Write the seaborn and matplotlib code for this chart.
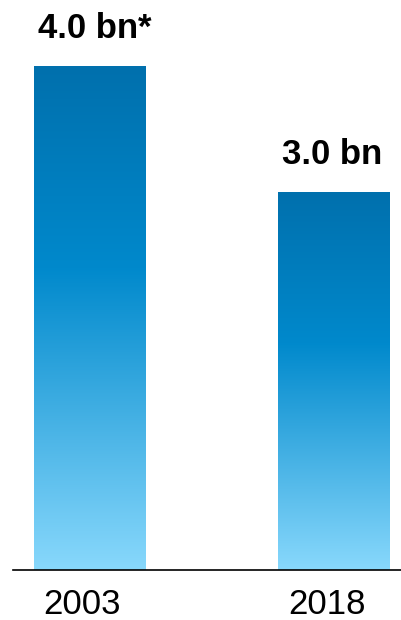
import numpy as np
import pandas as pd
import seaborn as sns
import matplotlib
matplotlib.use("Agg")
import matplotlib.pyplot as plt
from matplotlib.colors import LinearSegmentedColormap
from matplotlib.transforms import ScaledTranslation

# Values in billions
years = ["2003", "2018"]
values = [4.0, 3.0]
footnotes = ["*", ""]

df = pd.DataFrame({"year": years, "value": values})

sns.set_theme(style="white")
plt.rcParams["font.family"] = ["Liberation Sans", "DejaVu Sans"]

fig = plt.figure(figsize=(4.01, 6.2), dpi=100)
ax = fig.add_axes([13 / 401, 50 / 620, 388 / 401, 550 / 620])

sns.barplot(data=df, x="year", y="value", ax=ax, width=0.455,
            color="#0089CC", saturation=1)

# Vertical blue gradient: dark at the top, light at the base
cmap = LinearSegmentedColormap.from_list(
    "bar_grad", [(0.0, "#0070AD"), (0.4, "#0089CC"), (1.0, "#88D8FC")])
grad = np.linspace(0, 1, 256).reshape(-1, 1)
for patch in ax.patches:
    x0, y0 = patch.get_x(), patch.get_y()
    w, h = patch.get_width(), patch.get_height()
    im = ax.imshow(grad, cmap=cmap, aspect="auto", origin="upper",
                   extent=(x0, x0 + w, y0, y0 + h), zorder=patch.get_zorder())
    im.set_clip_path(patch)
    patch.set_facecolor("none")
    patch.set_edgecolor("none")
ax.set_xlim(-0.3135, 1.2766)
ax.set_ylim(0, 550 / 126)

# Value labels above the bars
for i, (v, fn) in enumerate(zip(values, footnotes)):
    t = ax.annotate(f"{v:.1f} bn", xy=(i, v), xytext=(-1, 20),
                    textcoords="offset points", ha="center", va="baseline",
                    fontsize=25, fontweight="bold", color="black")
    if fn:
        ax.annotate(fn, xy=(1, 0), xycoords=t, ha="left", va="bottom",
                    fontsize=25, fontweight="bold", color="black")

ax.set_xlabel("")
ax.set_ylabel("")
ax.set_yticks([])
for side in ["left", "right", "top"]:
    ax.spines[side].set_visible(False)
ax.spines["bottom"].set_color("black")
ax.spines["bottom"].set_linewidth(1.2)
ax.tick_params(axis="x", length=0, pad=13, labelsize=25, labelcolor="black")
shift = ScaledTranslation(-0.07, 0, fig.dpi_scale_trans)
for lbl in ax.get_xticklabels():
    lbl.set_transform(lbl.get_transform() + shift)

fig.savefig("out.png", dpi=100)
